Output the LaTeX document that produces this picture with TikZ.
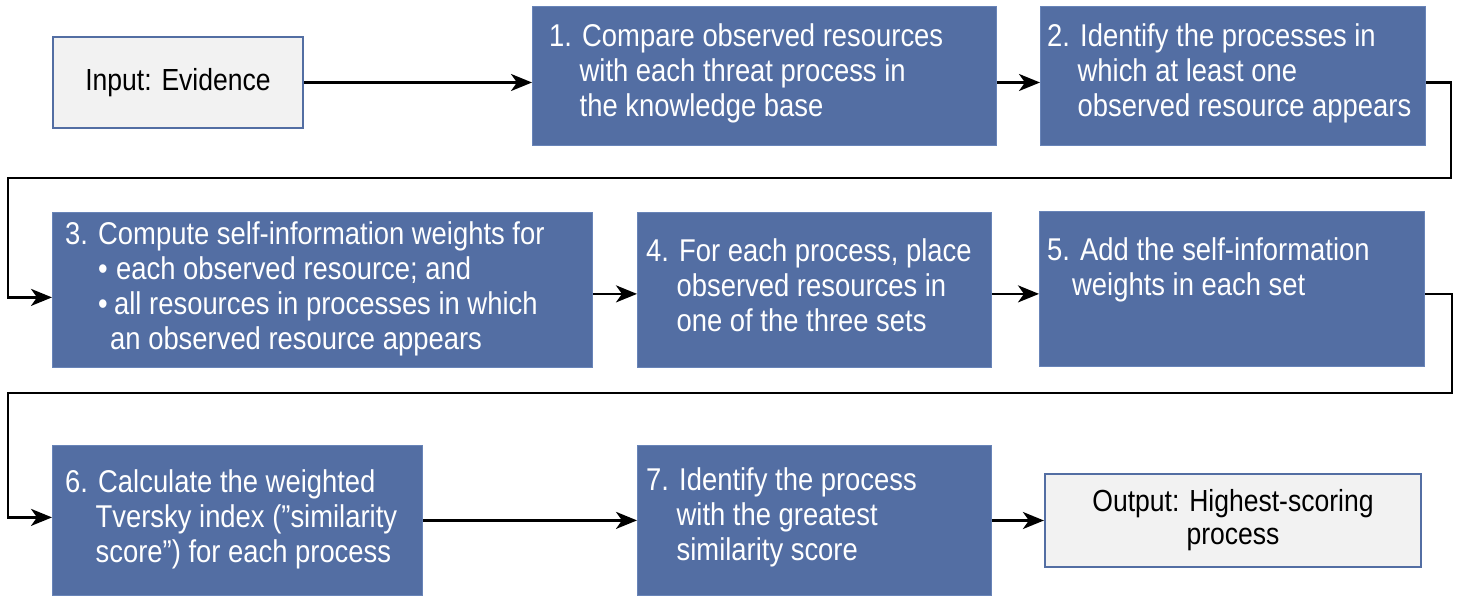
\documentclass[tikz,border=0pt]{standalone}
\usepackage{fontspec}
\setmainfont{Liberation Sans}[FakeStretch=0.87]
\usetikzlibrary{arrows.meta,calc}
\definecolor{boxblue}{RGB}{83,110,163}
\definecolor{edgeblue}{RGB}{104,132,184}
\definecolor{graybg}{RGB}{242,242,242}
\tikzset{
  blk/.style={rectangle, fill=boxblue, draw=edgeblue, line width=0.8pt, inner sep=0pt, anchor=north west},
  gbox/.style={rectangle, fill=graybg, draw=boxblue, line width=2.2pt, inner sep=0pt, align=center, text=black, font=\fontsize{30.5}{33}\selectfont},
  btxt/.style={inner sep=0pt, align=left, text=white, font=\fontsize{31.5}{35}\selectfont, anchor=west},
  conn/.style={line width=2.6pt, draw=black, -{Stealth[length=21pt,width=17pt,inset=6pt]}}
}
\begin{document}
\begin{tikzpicture}[x=1pt,y=-1pt]
\useasboundingbox (0,0) rectangle (1465,601);

% gray boxes
\node[gbox, minimum width=250pt, minimum height=91pt] (in) at (178,82.5) {Input: Evidence};
\node[gbox, minimum width=376pt, minimum height=93pt] (out) at (1233,520.5) {Output: Highest-scoring\\process};

% blue boxes
\node[blk, minimum width=464pt, minimum height=139pt] (b1) at (532,6.5) {};
\node[blk, minimum width=385pt, minimum height=139pt] (b2) at (1040,6.5) {};
\node[blk, minimum width=540pt, minimum height=155pt] (b3) at (52,212) {};
\node[blk, minimum width=354pt, minimum height=155pt] (b4) at (637,212) {};
\node[blk, minimum width=385pt, minimum height=155pt] (b5) at (1039,211) {};
\node[blk, minimum width=370pt, minimum height=150pt] (b6) at (52,445) {};
\node[blk, minimum width=354pt, minimum height=150pt] (b7) at (637,445) {};

% texts
\node[btxt] (t1) at ($(b1.west)+(17,-2)$) {\strut 1. Compare observed resources\\
  \strut\hphantom{1.\ }with each threat process in\\
  \strut\hphantom{1.\ }the knowledge base};
\node[btxt] (t2) at ($(b2.west)+(7,-2)$) {\strut 2. Identify the processes in\\
  \strut\hphantom{2.\ }which at least one\\
  \strut\hphantom{2.\ }observed resource appears};
\node[btxt] (t3) at ($(b3.west)+(13,0)$) {\strut 3. Compute self-information weights for\\
  \strut\hspace*{33pt}\makebox[18pt][l]{•}each observed resource; and\\
  \strut\hspace*{33pt}\makebox[16pt][l]{•}all resources in processes in which\\
  \strut\hspace*{45pt}an observed resource appears};
\node[btxt] (t4) at ($(b4.west)+(9,0)$) {\strut 4. For each process, place\\
  \strut\hphantom{4.\ }observed resources in\\
  \strut\hphantom{4.\ }one of the three sets};
\node[btxt] (t5) at ($(b5.west)+(8,0)$) {\strut 5. Add the self-information\\
  \strut\hspace*{25pt}weights in each set\\
  \strut};
\node[btxt] (t6) at ($(b6.west)+(13,0)$) {\strut 6. Calculate the weighted\\
  \strut\hphantom{6.\ }Tversky index (”similarity\\
  \strut\hphantom{6.\ }score”) for each process};
\node[btxt] (t7) at ($(b7.west)+(9,-2)$) {\strut 7. Identify the process\\
  \strut\hphantom{7.\ }with the greatest\\
  \strut\hphantom{7.\ }similarity score};

% connectors
\coordinate (r1) at (1451,178);
\coordinate (l1) at (8,178);
\coordinate (r2) at (1452,393);
\coordinate (l2) at (8,393);
\coordinate (e3) at ($(b3.west)+(0,7.5)$);
\coordinate (s34) at ($(b3.east)+(0,4)$);
\coordinate (s45) at ($(b4.east)+(0,4)$);
\coordinate (e6) at ($(b6.west)+(0,-3)$);

\draw[conn] (in.east) -- (in.east -| b1.west);
\draw[conn] (b1.east |- in.east) -- (b2.west |- in.east);
\draw[conn] (b2.east |- in.east) -| (r1) -- (l1) |- (e3);
\draw[conn] (s34) -- (s34 -| b4.west);
\draw[conn] (s45) -- (s45 -| b5.west);
\draw[conn] (s45 -| b5.east) -| (r2) -- (l2) |- (e6);
\draw[conn] (b6.east) -- (b6.east -| b7.west);
\draw[conn] (b7.east |- out.west) -- (out.west);
\end{tikzpicture}
\end{document}
